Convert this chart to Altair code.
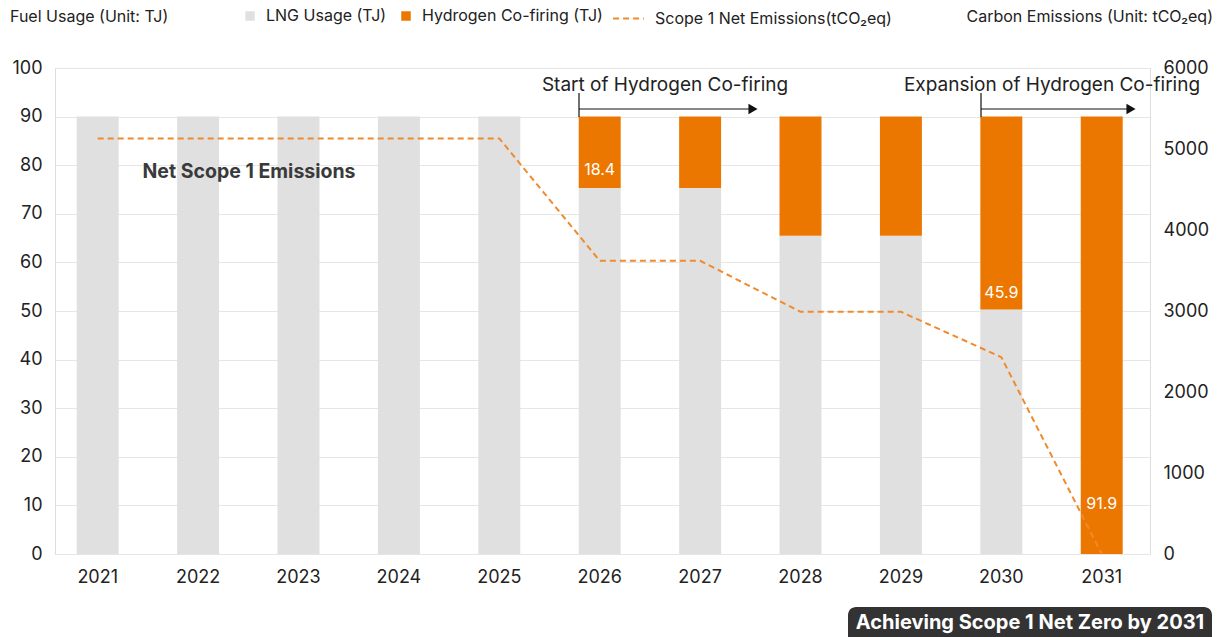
import altair as alt
import pandas as pd

# ---------------- data ----------------
years = ["2021", "2022", "2023", "2024", "2025", "2026", "2027", "2028", "2029", "2030", "2031"]
lng_usage = [90, 90, 90, 90, 90, 75.3, 75.3, 65.5, 65.5, 50.3, 0]
hydrogen_usage = [0, 0, 0, 0, 0, 14.7, 14.7, 24.5, 24.5, 39.7, 90]
net_emissions = [5130, 5130, 5130, 5130, 5130, 3620, 3620, 2990, 2990, 2430, 0]

label_years = ["2026", "2030", "2031"]
label_texts = ["18.4", "45.9", "91.9"]
label_level = [79.0, 53.7, 10.3]

LNG = "LNG Usage (TJ)"
H2 = "Hydrogen Co-firing (TJ)"
EM = "Scope 1 Net Emissions(tCO₂eq)"

FONT = "Inter"
GREY = "#e0e0e0"
ORANGE = "#ec7700"
LINE_ORANGE = "#f08a2c"
TXT = "#222222"

W, H = 1095, 486

bars_df = pd.DataFrame(
    {
        "year": years * 2,
        "type": [LNG] * len(years) + [H2] * len(years),
        "value": lng_usage + hydrogen_usage,
        "ord": [0] * len(years) + [1] * len(years),
    }
)
line_df = pd.DataFrame({"year": years, "emission": net_emissions, "series": [EM] * len(years)})
lab_df = pd.DataFrame({"year": label_years, "text": label_texts, "level": label_level})

x_enc = alt.X(
    "year:N",
    sort=years,
    scale=alt.Scale(paddingInner=0.582, paddingOuter=0.244, align=0.443),
    axis=alt.Axis(
        title=None, labelAngle=0, labelFontSize=18, labelPadding=14, domain=False,
        ticks=False, labelColor=TXT, labelFont=FONT,
    ),
)

bars = alt.Chart(bars_df).mark_bar().encode(
    x=x_enc,
    y=alt.Y(
        "value:Q",
        stack="zero",
        scale=alt.Scale(domain=[0, 100]),
        axis=alt.Axis(
            title=None, values=list(range(0, 101, 10)), grid=True, gridColor="#e6e6e6",
            domain=False, ticks=False, labelPadding=13, labelFontSize=18,
            labelColor=TXT, labelFont=FONT,
        ),
    ),
    color=alt.Color(
        "type:N",
        scale=alt.Scale(domain=[LNG, H2], range=[GREY, ORANGE]),
        legend=alt.Legend(
            title=None, orient="none", direction="horizontal", legendX=187, legendY=-60,
            symbolType="square", symbolSize=90, labelFontSize=16, labelFont=FONT,
            labelColor=TXT, columnPadding=11, labelOffset=8, padding=0, labelLimit=0,
        ),
    ),
    order=alt.Order("ord:Q"),
)

line = alt.Chart(line_df).mark_line(color=LINE_ORANGE, strokeWidth=2).encode(
    x=alt.X("year:N", sort=years),
    y=alt.Y(
        "emission:Q",
        scale=alt.Scale(domain=[0, 6000]),
        axis=alt.Axis(
            title=None, orient="right", values=list(range(0, 6001, 1000)), format="d",
            grid=False, domain=False, ticks=False, labelPadding=13, labelFontSize=18,
            labelColor=TXT, labelFont=FONT,
        ),
    ),
    strokeDash=alt.StrokeDash(
        "series:N",
        scale=alt.Scale(domain=[EM], range=[[6, 4]]),
        legend=alt.Legend(
            title=None, orient="none", legendX=557, legendY=-66, symbolType="stroke",
            symbolStrokeColor=LINE_ORANGE, symbolStrokeWidth=2, symbolSize=950,
            labelFontSize=16, labelFont=FONT, labelColor=TXT, labelOffset=10, padding=0,
            labelLimit=0,
        ),
    ),
)

labels = alt.Chart(lab_df).mark_text(color="white", fontSize=16, font=FONT).encode(
    x=alt.X("year:N", sort=years),
    y=alt.Y("level:Q", scale=alt.Scale(domain=[0, 100]), axis=None),
    text="text:N",
)


def fixed_text(txt, x, y, size=16, weight="normal", color=TXT, align="center"):
    return alt.Chart(pd.DataFrame({"t": [txt]})).mark_text(
        fontSize=size, font=FONT, fontWeight=weight, color=color, align=align, baseline="middle"
    ).encode(x=alt.value(x), y=alt.value(y), text="t:N")


one = pd.DataFrame({"a": [0]})


def rule(x, y, x2=None, y2=None):
    enc = {"x": alt.value(x), "y": alt.value(y)}
    if x2 is not None:
        enc["x2"] = alt.value(x2)
    if y2 is not None:
        enc["y2"] = alt.value(y2)
    return alt.Chart(one).mark_rule(color="#111111", strokeWidth=1.2).encode(**enc)


def head(x, y):
    return alt.Chart(one).mark_point(
        shape="triangle-right", filled=True, size=110, color="#111111", opacity=1
    ).encode(x=alt.value(x), y=alt.value(y))


s_x, e_x = 524, 926
annot = [
    fixed_text("Fuel Usage (Unit: TJ)", -45, -51, align="left"),
    fixed_text("Carbon Emissions (Unit: tCO₂eq)", 1158, -51, align="right"),
    fixed_text("Net Scope 1 Emissions", 194, 104, size=19.5, weight="bold", color="#3a3a3a"),
    fixed_text("Start of Hydrogen Co-firing", 610, 17, size=19),
    rule(s_x, 25, y2=49),
    rule(s_x, 41, x2=697),
    head(698, 41),
    fixed_text("Expansion of Hydrogen Co-firing", 997, 17, size=19),
    rule(e_x, 25, y2=49),
    rule(e_x, 41, x2=1075),
    head(1076, 41),
    alt.Chart(one).mark_rect(color="#333333", cornerRadius=8).encode(
        x=alt.value(793), x2=alt.value(1157), y=alt.value(539), y2=alt.value(585)
    ),
    fixed_text("Achieving Scope 1 Net Zero by 2031", 975, 555, size=20, weight="bold", color="white"),
]

chart = (
    alt.layer(bars, line, labels, *annot)
    .resolve_scale(y="independent")
    .properties(
        width=W,
        height=H,
        autosize=alt.AutoSizeParams(type="none"),
        padding={"left": 47, "top": 60, "right": 64, "bottom": 83},
    )
    .configure_view(stroke=None)
    .configure(font=FONT)
)

chart.save("out.html", embed_options={"renderer": "svg", "actions": False})
